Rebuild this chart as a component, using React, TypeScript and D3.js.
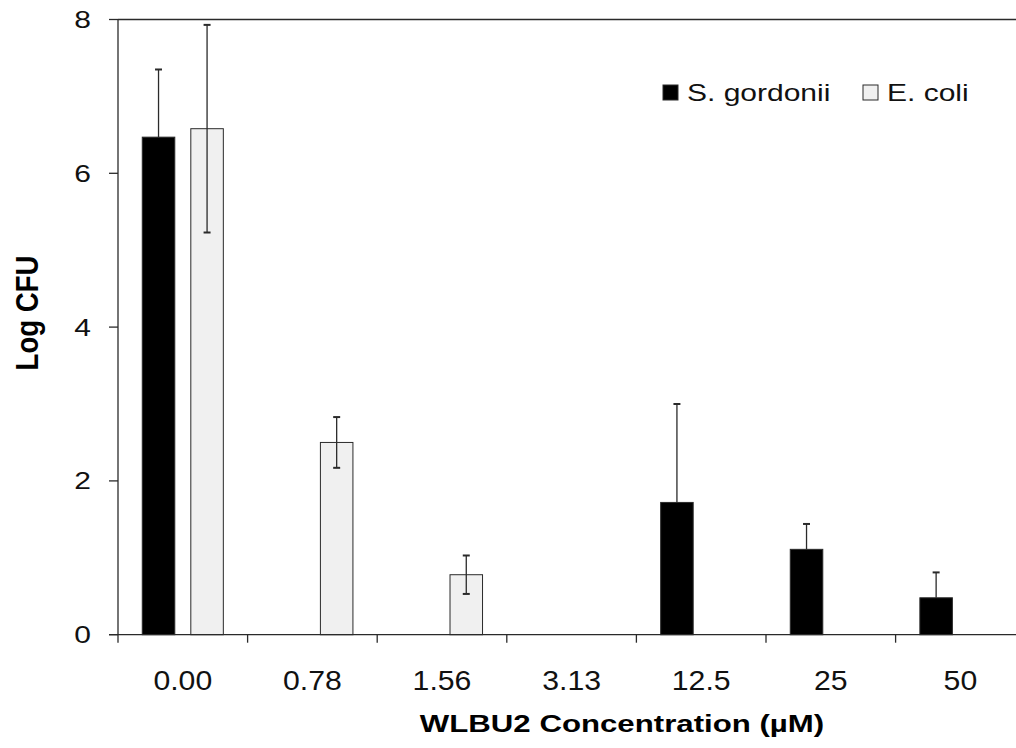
import React, { useEffect, useRef } from "react";
import * as d3 from "d3";

const concentrations = ["0.00", "0.78", "1.56", "3.13", "12.5", "25", "50"];
const seriesNames = ["S. gordonii", "E. coli"];
const gordoniiMean = [6.47, null, null, null, 1.72, 1.11, 0.48];
const gordoniiErr = [0.88, null, null, null, 1.28, 0.33, 0.33];
const coliMean = [6.58, 2.5, 0.78, null, null, null, null];
const coliErr = [1.35, 0.33, 0.25, null, null, null, null];
const yTicks = [0, 2, 4, 6, 8];

const W = 1016;
const H = 748;
const FONT = "'Liberation Sans', Arial, sans-serif";
const fills = ["#000000", "#f0f0f0"];

const App = () => {
  const chartRef = useRef(null);

  useEffect(() => {
    const svg = d3.select(chartRef.current);
    svg.selectAll("*").remove();

    const left = 118;
    const step = 129.6;
    const x = d3.scaleBand()
      .domain(concentrations)
      .range([left, left + step * concentrations.length])
      .padding(0);
    const inner = d3.scaleBand()
      .domain(seriesNames)
      .range([0, x.bandwidth()])
      .paddingInner(0.33)
      .paddingOuter(0.5);
    const y = d3.scaleLinear().domain([0, 8]).range([634.7, 19.5]);

    const rows = [];
    concentrations.forEach((c, i) => {
      [[gordoniiMean, gordoniiErr], [coliMean, coliErr]].forEach(([m, e], s) => {
        if (m[i] != null) rows.push({ c, s, name: seriesNames[s], mean: m[i], err: e[i] });
      });
    });

    // bars
    svg.append("g")
      .selectAll("rect")
      .data(rows)
      .enter()
      .append("rect")
      .attr("x", d => x(d.c) + inner(d.name))
      .attr("y", d => y(d.mean))
      .attr("width", inner.bandwidth())
      .attr("height", d => y(0) - y(d.mean))
      .attr("fill", d => fills[d.s])
      .attr("stroke", "#2a2a2a")
      .attr("stroke-width", 1);

    // error bars (the black bars hide the lower whisker)
    const eb = svg.append("g").attr("stroke", "#2a2a2a").attr("stroke-width", 1.3);
    rows.forEach(d => {
      const cx = x(d.c) + inner(d.name) + inner.bandwidth() / 2;
      const top = y(d.mean + d.err);
      const bot = d.s === 0 ? y(d.mean) : y(Math.max(0, d.mean - d.err));
      eb.append("line").attr("x1", cx).attr("x2", cx).attr("y1", top).attr("y2", bot);
      eb.append("line").attr("x1", cx - 3.5).attr("x2", cx + 3.5).attr("y1", top).attr("y2", top)
        .attr("stroke-width", 2);
      if (d.s === 1) {
        eb.append("line").attr("x1", cx - 3.5).attr("x2", cx + 3.5).attr("y1", bot).attr("y2", bot)
          .attr("stroke-width", 2);
      }
    });

    // axes
    const ax = svg.append("g").attr("stroke", "#2a2a2a").attr("stroke-width", 1.3);
    ax.append("line").attr("x1", left).attr("x2", left).attr("y1", y(8)).attr("y2", y(0));
    ax.append("line").attr("x1", left).attr("x2", W).attr("y1", y(8)).attr("y2", y(8));
    ax.append("line").attr("x1", left - 9).attr("x2", W).attr("y1", y(0)).attr("y2", y(0));
    yTicks.forEach(t => {
      ax.append("line").attr("x1", left - 9).attr("x2", left).attr("y1", y(t)).attr("y2", y(t));
    });
    concentrations.forEach(c => {
      ax.append("line").attr("x1", x(c)).attr("x2", x(c)).attr("y1", y(0)).attr("y2", y(0) + 8);
    });

    // y tick labels
    svg.append("g")
      .selectAll("text")
      .data(yTicks)
      .enter()
      .append("text")
      .attr("transform", d => `translate(91,${y(d) + 8.5}) scale(1.25,1)`)
      .attr("text-anchor", "end")
      .attr("font-family", FONT)
      .attr("font-size", 24)
      .attr("fill", "#111")
      .text(d => d);

    // x tick labels
    svg.append("g")
      .selectAll("text")
      .data(concentrations)
      .enter()
      .append("text")
      .attr("transform", d => `translate(${x(d) + x.bandwidth() / 2},690) scale(1.12,1)`)
      .attr("text-anchor", "middle")
      .attr("font-family", FONT)
      .attr("font-size", 27)
      .attr("fill", "#111")
      .text(d => d);

    // axis titles
    svg.append("text")
      .attr("transform", "translate(622,732) scale(1.3,1)")
      .attr("text-anchor", "middle")
      .attr("font-family", FONT)
      .attr("font-size", 24)
      .attr("font-weight", "bold")
      .attr("fill", "#000")
      .text("WLBU2 Concentration (µM)");
    svg.append("text")
      .attr("transform", "translate(38,313) rotate(-90) scale(1.15,1.3)")
      .attr("text-anchor", "middle")
      .attr("font-family", FONT)
      .attr("font-size", 24)
      .attr("font-weight", "bold")
      .attr("fill", "#000")
      .text("Log CFU");

    // legend
    const legendX = [663, 863];
    seriesNames.forEach((n, i) => {
      const g = svg.append("g").attr("transform", `translate(${legendX[i]},85)`);
      g.append("rect")
        .attr("width", 15)
        .attr("height", 15)
        .attr("fill", fills[i])
        .attr("stroke", "#2a2a2a")
        .attr("stroke-width", 1);
      g.append("text")
        .attr("transform", "translate(24,16) scale(1.25,1)")
        .attr("font-family", FONT)
        .attr("font-size", 24)
        .attr("fill", "#111")
        .text(n);
    });
  }, []);

  return (
    <svg
      ref={chartRef}
      width={W}
      height={H}
      style={{ position: "absolute", left: 0, top: 0, background: "#fff" }}
    ></svg>
  );
};

export default App;
